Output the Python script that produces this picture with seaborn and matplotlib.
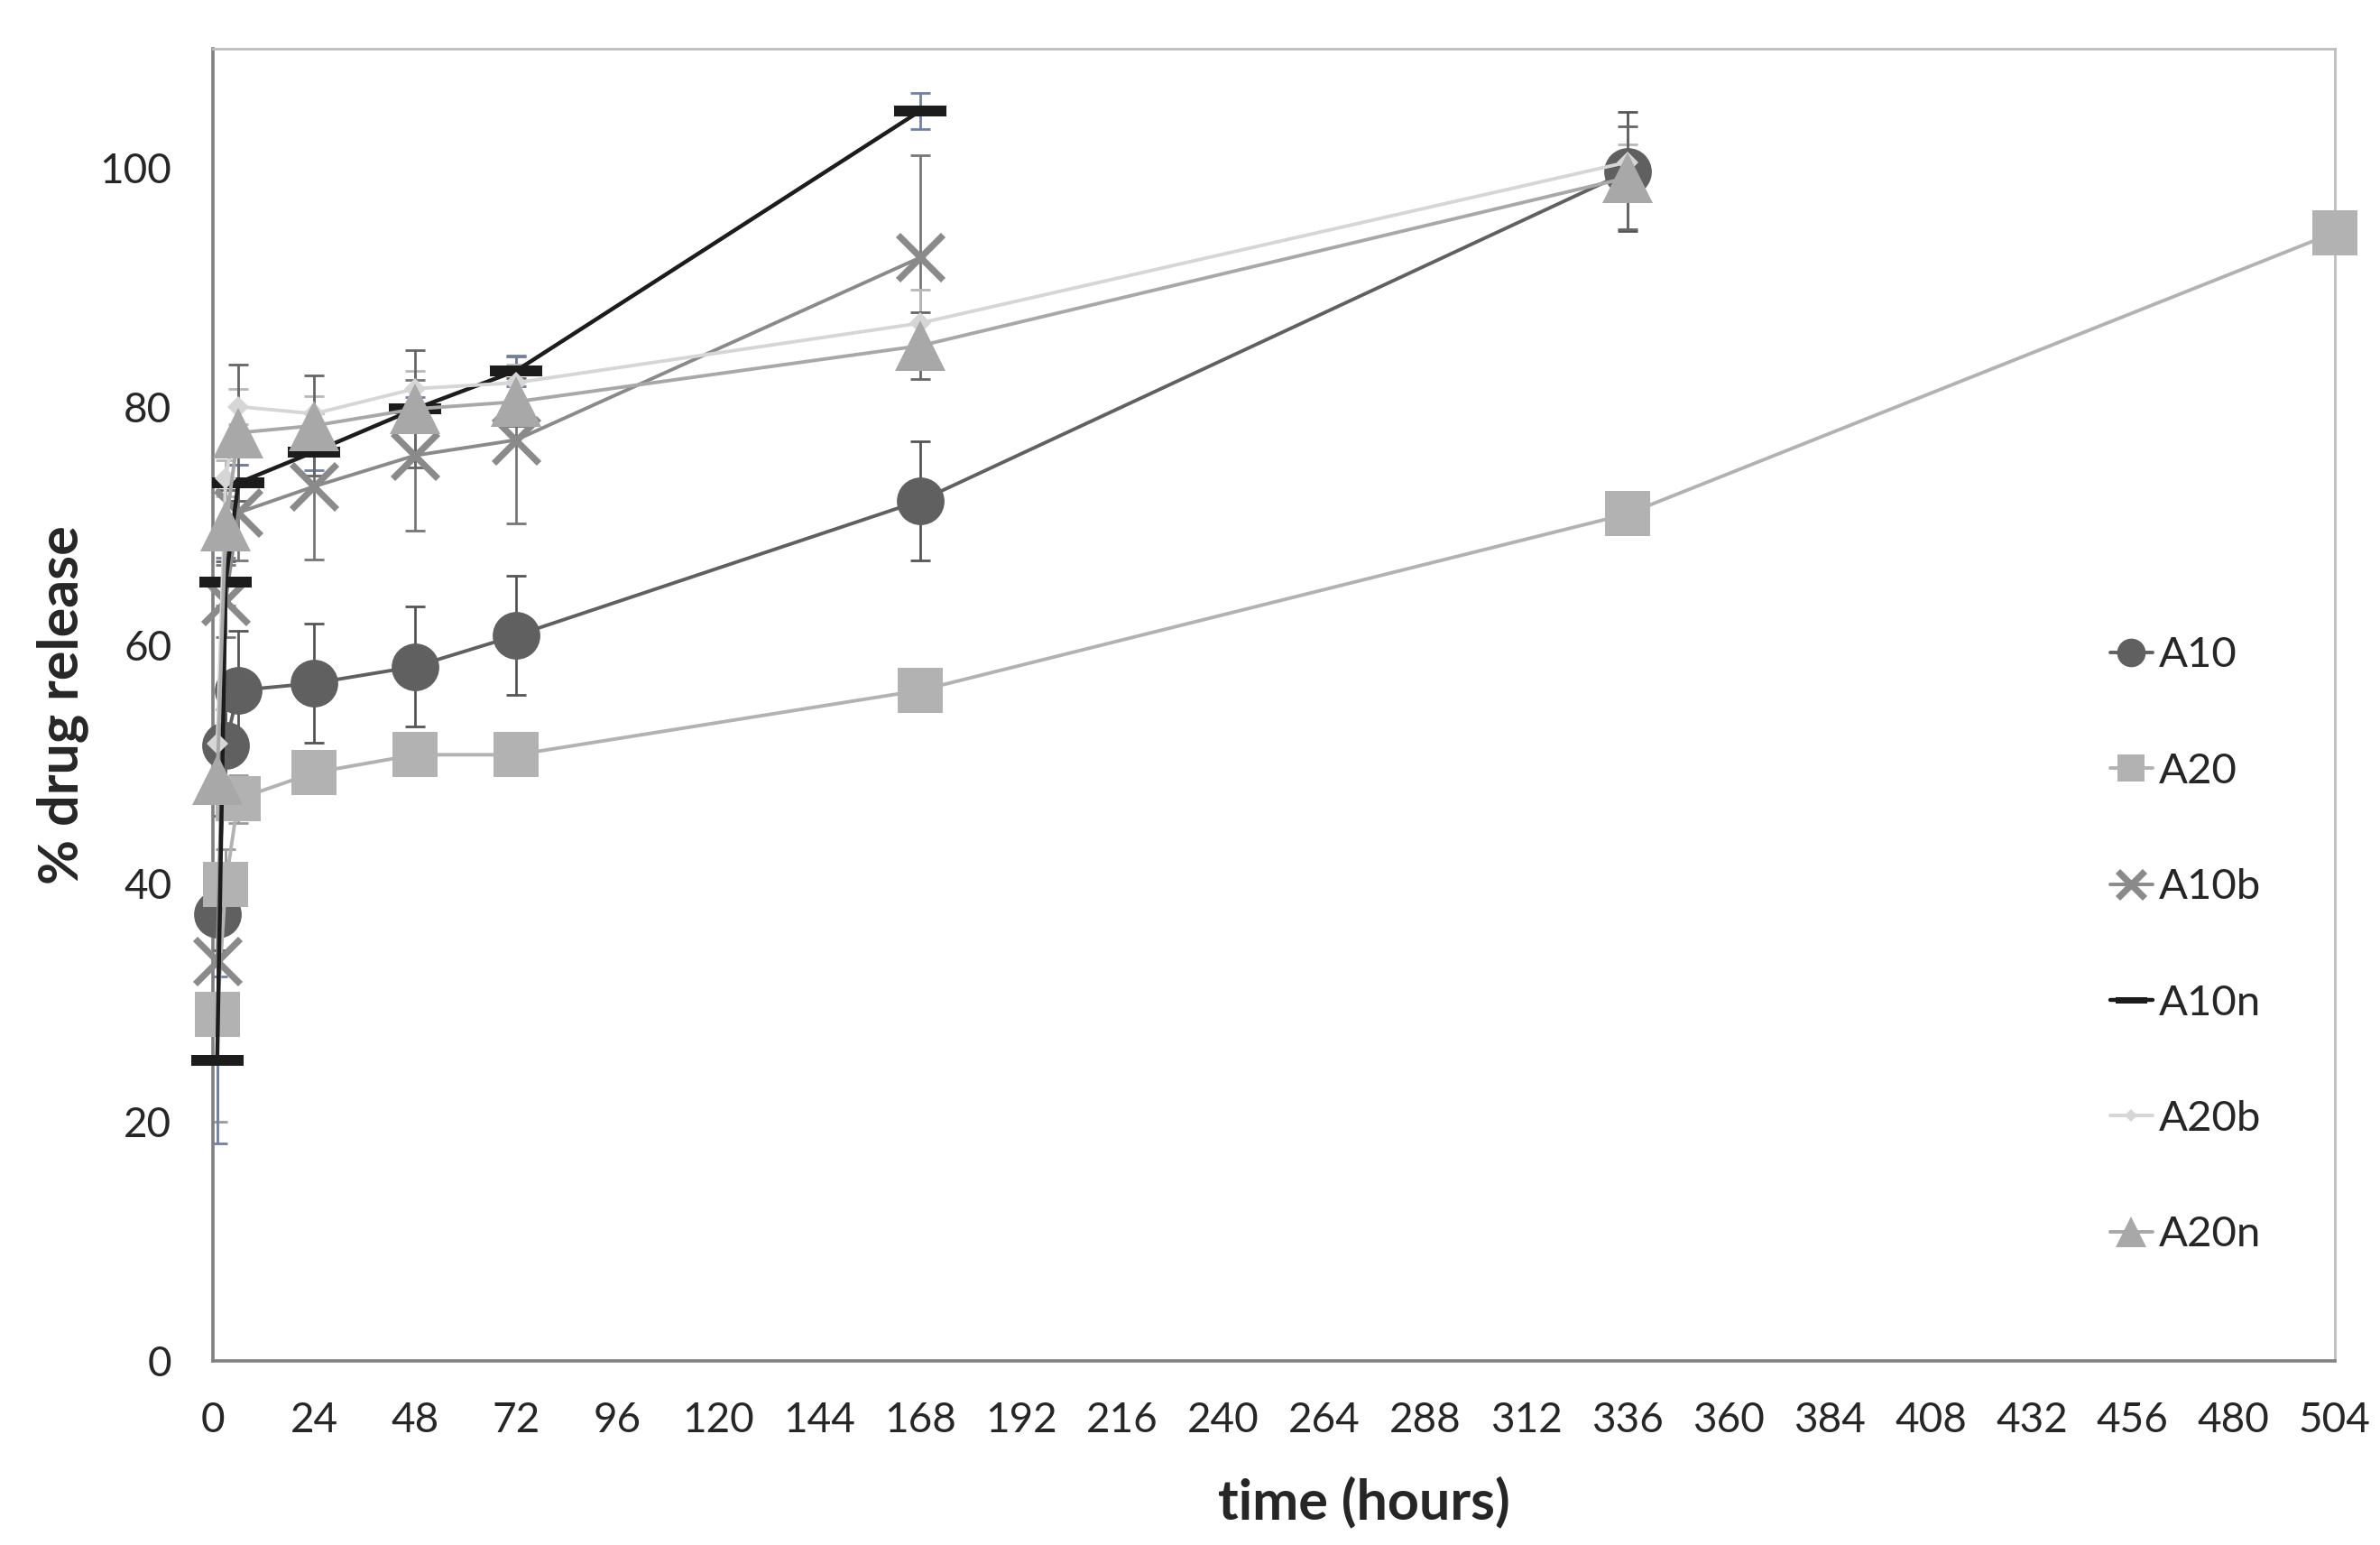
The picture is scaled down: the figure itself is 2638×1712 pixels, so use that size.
import numpy as np
import pandas as pd
import matplotlib
matplotlib.use("Agg")
import matplotlib.pyplot as plt
import seaborn as sns

# ---- data ----
time_h = [1, 3, 6, 24, 48, 72, 168, 336, 504]

a10 = [37.4, 51.6, 56.2, 56.8, 58.2, 60.8, 72.1, 99.7]
a10_err = [3.0, 3.0, 5.0, 5.0, 5.0, 5.0, 5.0, 5.0]

a20 = [29.0, 39.9, 47.1, 49.3, 50.8, 50.8, 56.2, 71.0, 94.6]
a20_err = [9.0, 3.0, 2.0, 1.5, 1.5, 1.5, 1.5, 1.5, 1.5]

a10b = [33.5, 63.7, 71.1, 73.3, 75.9, 77.2, 92.5]
a10b_err = [3.0, 3.0, 4.0, 6.1, 6.3, 7.0, 8.6]

a10n = [25.2, 65.3, 73.6, 76.2, 79.8, 83.0, 104.8]
a10n_err = [7.0, 2.0, 1.5, 1.5, 1.0, 1.3, 1.5]

a20b = [51.7, 74.0, 80.0, 79.4, 81.5, 82.0, 87.0, 100.5]
a20b_err = [1.5, 1.5, 1.5, 1.5, 1.5, 1.5, 2.8, 1.5]

a20n = [48.7, 70.0, 77.8, 78.4, 79.8, 80.4, 85.1, 99.2]
a20n_err = [3.0, 3.0, 5.7, 4.2, 4.9, 2.0, 2.8, 4.3]

names = ["A10", "A20", "A10b", "A10n", "A20b", "A20n"]
values = [a10, a20, a10b, a10n, a20b, a20n]
errors = [a10_err, a20_err, a10b_err, a10n_err, a20b_err, a20n_err]

# ---- styling ----
bar_marker = [(-1, -0.2), (1, -0.2), (1, 0.2), (-1, 0.2), (-1, -0.2)]
styles = {
    "A10":  dict(color="#606060", marker="o", ms=19, mew=0, lw=1.4, ecol="#555555"),
    "A20":  dict(color="#b2b2b2", marker="s", ms=18, mew=0, lw=1.4, ecol="#9a9a9a"),
    "A10b": dict(color="#8a8a8a", marker="x", ms=18, mew=2.6, lw=1.4, ecol="#777777"),
    "A10n": dict(color="#1c1c1c", marker=bar_marker, ms=21, mew=0, lw=1.6, ecol="#6f80a8"),
    "A20b": dict(color="#d6d6d6", marker="D", ms=6, mew=0, lw=1.4, ecol="#b8b8b8"),
    "A20n": dict(color="#a8a8a8", marker="^", ms=20, mew=0, lw=1.4, ecol="#666666"),
}

sns.set_theme(style="white")
plt.rcParams["font.family"] = ["Lato", "DejaVu Sans"]

fig = plt.figure(figsize=(13.19, 8.56), dpi=200)
ax = fig.add_axes([0.0895, 0.1194, 0.8915, 0.849])

for i, (name, vals, errs) in enumerate(zip(names, values, errors)):
    st = styles[name]
    t = time_h[:len(vals)]
    df = pd.DataFrame({"time": t, "release": vals})
    ax.errorbar(t, vals, yerr=errs, fmt="none", ecolor=st["ecol"],
                elinewidth=1.0, capsize=4, capthick=1.0, zorder=2 + i * 0.1)
    sns.lineplot(data=df, x="time", y="release", ax=ax, color=st["color"],
                 linewidth=st["lw"], marker=st["marker"], markersize=st["ms"],
                 markeredgewidth=st["mew"], markerfacecolor=st["color"],
                 markeredgecolor=st["color"], label=name, zorder=3 + i * 0.1,
                 clip_on=False)

ax.set_xlim(0, 504)
ax.set_ylim(0, 110)
ax.set_xticks(np.arange(0, 505, 24))
ax.set_yticks(np.arange(0, 101, 20))
ax.tick_params(axis="both", direction="in", length=6, width=1.0,
               color="#777777", labelsize=16.5, pad=16.5)

for side in ["left", "bottom"]:
    ax.spines[side].set_color("#808080")
    ax.spines[side].set_linewidth(1.3)
for side in ["top", "right"]:
    ax.spines[side].set_color("#bdbdbd")
    ax.spines[side].set_linewidth(1.0)

ax.set_xlabel("time (hours)", fontsize=22, fontweight="bold")
ax.set_ylabel("% drug release", fontsize=22, fontweight="bold")
ax.xaxis.set_label_coords(0.5425, -0.088)
ax.yaxis.set_label_coords(-0.0588, 0.5)

ax.legend(loc="upper left", bbox_to_anchor=(0.886, 0.565), frameon=False,
          fontsize=17, labelspacing=1.83, handlelength=1.0, handletextpad=0.15,
          markerscale=0.6, borderaxespad=0)

fig.savefig("out.png", dpi=200)
